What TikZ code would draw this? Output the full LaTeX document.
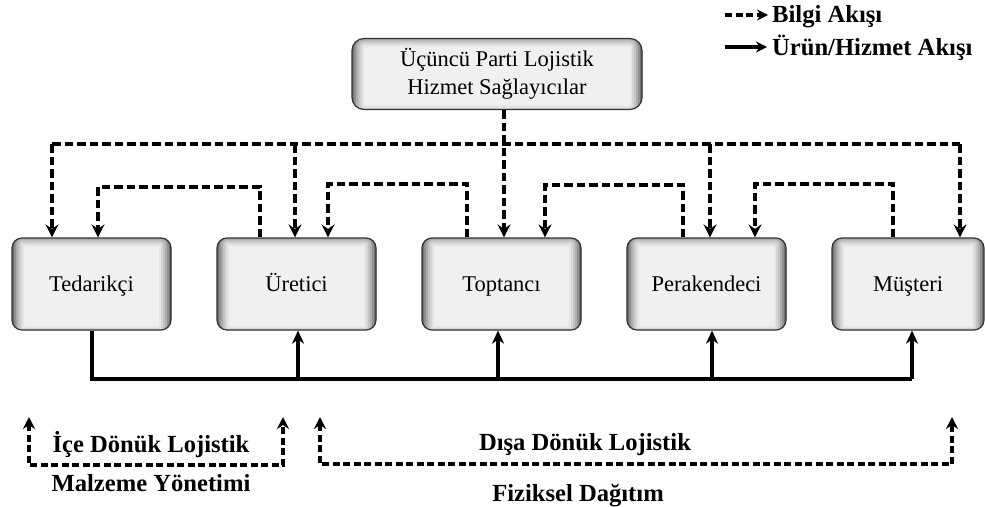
\documentclass[tikz,border=0pt]{standalone}
\usepackage{fontspec}
\setmainfont{Liberation Serif}
\usetikzlibrary{arrows.meta}
\begin{document}
\begin{tikzpicture}[x=1pt,y=-1pt,
  % dashed information flow
  info/.style={line width=4pt, dash pattern=on 8.5pt off 4pt,
    -{Stealth[length=13pt,width=13pt,inset=4.5pt]}},
  % solid product / service flow
  flow/.style={line width=3.3pt, -{Stealth[length=13pt,width=12pt,inset=4pt]}},
  % short dashed brackets under the chain
  bracket/.style={line width=3.6pt, dash pattern=on 7pt off 3.5pt,
    {Stealth[length=12pt,width=12pt,inset=4pt]}-{Stealth[length=12pt,width=12pt,inset=4pt]}},
  % soft inner shadow along the sides and top of a box
  innershadow/.style={path picture={
    \foreach \w/\c in {24/10,20/16,16/23,12/32,8/43,4/56}{
      \draw[line width=\w pt, black!\c, rounded corners=#1]
        ([yshift=-8pt]path picture bounding box.south west) rectangle
        ([yshift=4pt]path picture bounding box.north east);
    }}},
  boxbase/.style={draw=black!80, line width=1.2pt, fill=black!6, inner sep=0pt,
    font=\fontsize{22.5}{28}\selectfont, align=center},
  actor/.style={boxbase, rounded corners=10pt, innershadow=10pt,
    minimum width=159pt, minimum height=92pt, text height=18pt, text depth=4pt},
  lbl/.style={font=\bfseries\fontsize{24.6}{28}\selectfont, inner sep=0pt}
]
\useasboundingbox (0,0) rectangle (985,506);

% third-party provider
\node[boxbase, rounded corners=12pt, innershadow=12pt, minimum width=290pt,
  minimum height=71pt] (tpl) at (497,74)
  {Üçüncü Parti Lojistik\\Hizmet Sağlayıcılar};

% supply chain members
\node[actor] (ted) at (91.5,284) {Tedarikçi};
\node[actor] (ure) at (296.5,284) {Üretici};
\node[actor] (top) at (501.5,284) {Toptancı};
\node[actor] (per) at (706.5,284) {Perakendeci};
\node[actor, minimum width=152pt] (mus) at (908,284) {Müşteri};

% information from the provider to every member
\coordinate (busL) at (52,144);
\coordinate (busR) at (960,144);
\coordinate (bU) at (295,144);
\coordinate (bP) at (710,144);
\draw[info,-] (busL) -- (busR);
\draw[info] (tpl.south -| 504,0) -- (top.north -| 504,0);
\draw[info] (busL) -- (ted.north -| busL);
\draw[info] (bU) -- (ure.north -| bU);
\draw[info] (bP) -- (per.north -| bP);
\draw[info] (busR) -- (mus.north -| busR);

% information passed back upstream between neighbours
\draw[info] (ure.north -| 260,0) |- (98,187) -- (ted.north -| 98,0);
\draw[info] (top.north -| 467,0) |- (328,184) -- (ure.north -| 328,0);
\draw[info] (per.north -| 683,0) |- (545,185) -- (top.north -| 545,0);
\draw[info] (mus.north -| 893,0) |- (755,184) -- (per.north -| 755,0);

% product flow along the bottom line
\coordinate (fL) at (92,379);
\coordinate (fR) at (912,379);
\coordinate (fU) at (298,379);
\coordinate (fT) at (498,379);
\coordinate (fP) at (712,379);
\draw[flow,-] (ted.south -| fL) -- (fL) -- (fR);
\draw[flow] (fR) -- (mus.south -| fR);
\draw[flow] (fU) -- (ure.south -| fU);
\draw[flow] (fT) -- (top.south -| fT);
\draw[flow] (fP) -- (per.south -| fP);

% legend
\coordinate (lgI1) at (725,15);
\coordinate (lgI2) at (768,15);
\coordinate (lgF1) at (725,47);
\coordinate (lgF2) at (767,47);
\draw[line width=3.6pt, dash pattern=on 7pt off 3.5pt,
  -{Stealth[length=11pt,width=11pt,inset=3.5pt]}] (lgI1) -- (lgI2);
\draw[line width=3.3pt, -{Stealth[length=11pt,width=11pt,inset=3.5pt]}] (lgF1) -- (lgF2);
\node[lbl, anchor=base west] (lgI) at (772,23) {Bilgi Akışı};
\node[lbl, anchor=base west] (lgF) at (772,55) {Ürün/Hizmet Akışı};

% inbound and outbound brackets
\coordinate (inA) at (29,417);
\coordinate (inB) at (29,465);
\coordinate (inC) at (283,465);
\coordinate (inD) at (283,417);
\draw[bracket] (inA) -- (inB) -- (inC) -- (inD);
\coordinate (outA) at (320,417);
\coordinate (outB) at (320,464);
\coordinate (outC) at (952,464);
\coordinate (outD) at (952,417);
\draw[bracket] (outA) -- (outB) -- (outC) -- (outD);

\node[lbl, anchor=base] (inT) at (151,452) {İçe Dönük Lojistik};
\node[lbl, anchor=base] (inS) at (151,491) {Malzeme Yönetimi};
\node[lbl, anchor=base] (outT) at (585,450) {Dışa Dönük Lojistik};
\node[lbl, anchor=base] (outS) at (578,501) {Fiziksel Dağıtım};
\end{tikzpicture}
\end{document}
